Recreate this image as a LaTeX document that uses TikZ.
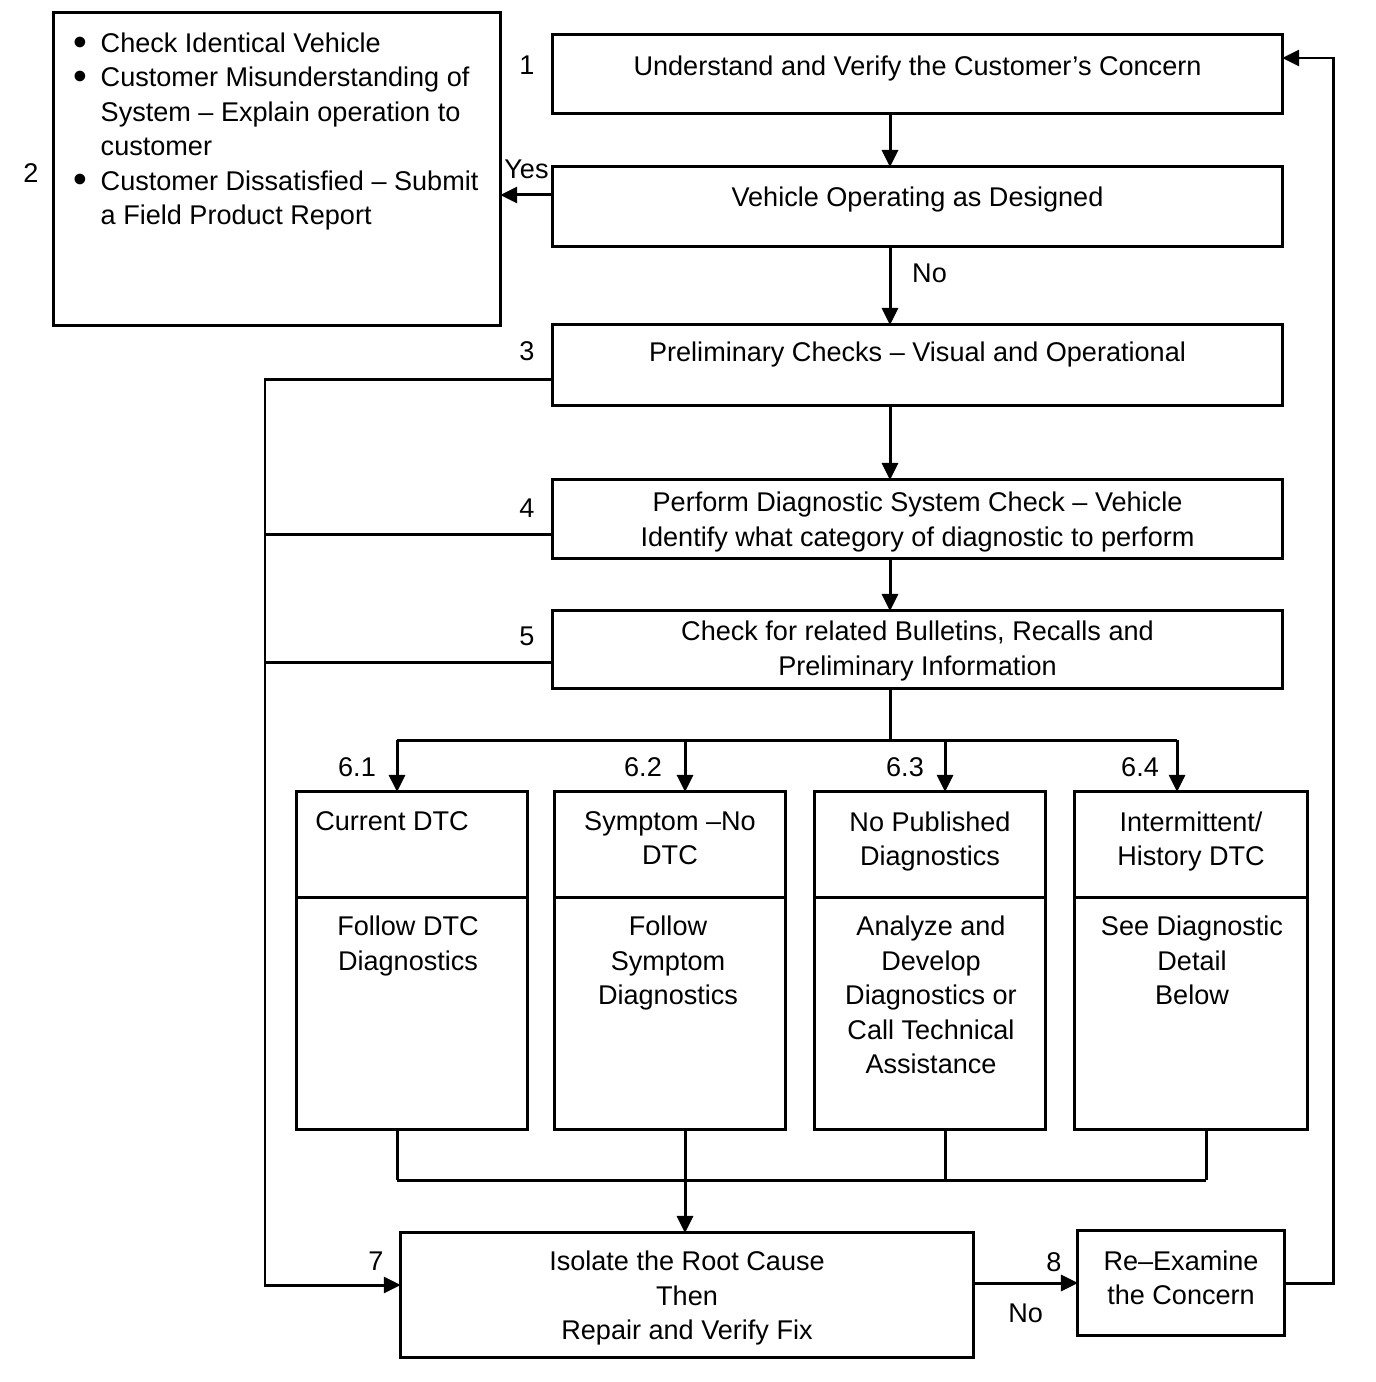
\documentclass[tikz,border=0pt]{standalone}
\usepackage{fontspec}
\setmainfont{Liberation Sans}
\usetikzlibrary{arrows.meta}
\newcommand{\blt}{\makebox[0.27cm][l]{\raisebox{-0.1em}{\scalebox{1.45}{\textbullet}}}}
\newcommand{\ind}{\makebox[0.27cm]{}}
\tikzset{%
	box/.style={draw,line width=0.85pt,inner sep=0pt,outer sep=0pt,shape=rectangle},
	txt/.style={inner sep=0pt,align=center,font=\fontsize{7.7}{9.8}\selectfont},
	num/.style={font=\fontsize{7.7}{9.7}\selectfont},
	intop/.style={anchor=north,yshift=-0.19cm},
	flow/.style={line width=0.85pt,>={Triangle[length=0.17cm,width=0.16cm]}},
}
\begin{document}
\begin{tikzpicture}[x=0.01cm,y=-0.01cm]
			\useasboundingbox (0,0) rectangle (1376,1382);
			
			%okvirji
			\node[box, minimum width=7.29cm, minimum height=0.78cm, label={[txt,intop,yshift=-0.015cm]north:{Understand and Verify the Customer’s Concern}}] (understand) at (917.5,74) {};
			\node[box, minimum width=7.29cm, minimum height=0.79cm, label={[txt,intop]north:{Vehicle Operating as Designed}}] (vehicle) at (917.5,206.5) {};
			\node[box, minimum width=4.46cm, minimum height=3.12cm] (checks) at (277,169) {};
			\node[txt, anchor=north west, align=left] (checksT) at (73,32) {\blt Check Identical Vehicle\\ \blt Customer Misunderstanding of\\ \ind System – Explain operation to\\ \ind customer\\ \blt Customer Dissatisfied – Submit\\ \ind a Field Product Report};
			\node[box, minimum width=7.29cm, minimum height=0.80cm, label={[txt,intop,yshift=0.025cm]north:{Preliminary Checks – Visual and Operational}}] (prelim) at (917.5,365) {};
			\node[box, minimum width=7.29cm, minimum height=0.78cm, label={[txt,intop,yshift=0.075cm]north:{Perform Diagnostic System Check – Vehicle\\Identify what category of diagnostic to perform}}] (diag) at (917.5,519) {};
			\node[box, minimum width=7.29cm, minimum height=0.77cm, label={[txt,intop,yshift=0.095cm]north:{Check for related Bulletins, Recalls and\\Preliminary Information}}] (bull) at (917.5,649.5) {};
			
			%kategorije
			\node[box, minimum width=2.30cm, minimum height=3.37cm, label={[txt,intop,xshift=-0.2cm]north:{Current DTC}}] (cur) at (412,960.5) {};
			\node[box, minimum width=2.30cm, minimum height=3.37cm, label={[txt,intop]north:{Symptom –No\\DTC}}] (sym) at (670,960.5) {};
			\node[box, minimum width=2.30cm, minimum height=3.37cm, label={[txt,intop]north:{No Published\\Diagnostics}}] (nopub) at (930,960.5) {};
			\node[box, minimum width=2.32cm, minimum height=3.37cm, label={[txt,intop]north:{Intermittent/\\History DTC}}] (inter) at (1191,960.5) {};
			\coordinate (div) at (0,897);
			\foreach \b in {cur,sym,nopub,inter}
				\draw[flow] (\b.west |- div) -- (\b.east |- div);
			\node[txt, anchor=north] (curB) at (408,915.5) {Follow DTC\\Diagnostics};
			\node[txt, anchor=north] (symB) at (668,915.5) {Follow\\Symptom\\Diagnostics};
			\node[txt, anchor=north] (nopubB) at (931,915.5) {Analyze and\\Develop\\Diagnostics or\\Call Technical\\Assistance};
			\node[txt, anchor=north] (interB) at (1192,915.5) {See Diagnostic\\Detail\\Below};
			
			\node[box, minimum width=5.72cm, minimum height=1.24cm, label={[txt,intop,yshift=0.015cm]north:{Isolate the Root Cause\\Then\\Repair and Verify Fix}}] (isolate) at (687,1295) {};
			\node[box, minimum width=2.06cm, minimum height=1.04cm, label={[txt,intop]north:{Re–Examine\\the Concern}}] (reexam) at (1181,1283) {};
			
			%številke
			\node[num] (num1) at (527,65) {1};
			\node[num] (num2) at (31,173) {2};
			\node[num] (num3) at (527,351) {3};
			\node[num] (num4) at (527,508) {4};
			\node[num] (num5) at (527,636) {5};
			\node[num] (num61) at (357,767) {6.1};
			\node[num] (num62) at (643,767) {6.2};
			\node[num] (num63) at (905,767) {6.3};
			\node[num] (num64) at (1140,767) {6.4};
			\node[num] (num7) at (376,1261) {7};
			
			%povezave
			\coordinate (spine) at (890,0);
			\draw[flow,->] (understand.south -| spine) -- (vehicle.north -| spine);
			\draw[flow,->] ([yshift=0.115cm]vehicle.west) coordinate (yesA) -- (yesA -| checks.east) node[num, midway, above=0.03cm] (yes) {Yes};
			\draw[flow,->] (vehicle.south -| spine) -- (prelim.north -| spine) node[num, pos=0.34, right=0.09cm] (no1) {No};
			\draw[flow,->] (prelim.south -| spine) -- (diag.north -| spine);
			\draw[flow,->] (diag.south -| spine) -- (bull.north -| spine);
			
			\coordinate (split) at (890,740);
			\coordinate (c61) at (397,740);
			\coordinate (c62) at (685,740);
			\coordinate (c63) at (945,740);
			\coordinate (c64) at (1177,740);
			\draw[flow] (bull.south -| spine) -- (split);
			\draw[flow] (c61) -- (c64);
			\foreach \c/\b in {c61/cur,c62/sym,c63/nopub,c64/inter}
				\draw[flow,->] (\c) -- (\c |- \b.north);
			
			\coordinate (m61) at (397,1180);
			\coordinate (m62) at (685,1180);
			\coordinate (m63) at (945,1180);
			\coordinate (m64) at (1206,1180);
			\foreach \m/\b in {m61/cur,m62/sym,m63/nopub,m64/inter}
				\draw[flow] (\b.south -| \m) -- (\m);
			\draw[flow] (m61) -- (m64);
			\draw[flow,->] (m62) -- (isolate.north -| m62);
			
			%leva pot
			\coordinate (lb) at (265,1285);
			\draw[flow,->] ([yshift=-0.14cm]prelim.west) coordinate (p3) -| (lb) -- (lb -| isolate.west);
			\draw[flow] ([yshift=-0.15cm]diag.west) coordinate (p4) -- (p4 -| lb);
			\draw[flow] ([yshift=-0.125cm]bull.west) coordinate (p5) -- (p5 -| lb);
			
			%nazaj
			\draw[flow,->] (reexam.west -| isolate.east) -- (reexam.west) node[num, pos=0.77, above=-0.02cm] (num8) {8} node[num, midway, below=0.08cm] (no2) {No};
			\coordinate (rb) at (1333,58);
			\draw[flow,->] (reexam.east) -| (rb) -- (rb -| understand.east);
\end{tikzpicture}
\end{document}
